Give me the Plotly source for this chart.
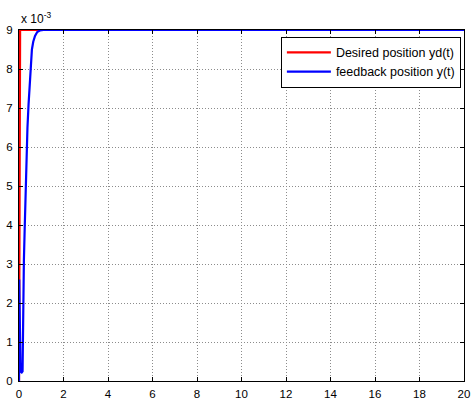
import plotly.graph_objects as go

# Desired position yd(t) [m]
t_desired = [0.0, 0.01, 0.03, 0.05, 1.0, 5.0, 10.0, 15.0, 20.0]
y_desired = [0.0, 0.0026, 0.0075, 0.0090, 0.0090, 0.0090, 0.0090, 0.0090, 0.0090]

# Feedback position y(t) [m]
t_feedback = [0.0, 0.01, 0.03, 0.07, 0.12, 0.16, 0.19, 0.22, 0.26, 0.30, 0.34,
              0.38, 0.43, 0.48, 0.53, 0.58, 0.64, 0.72, 0.82, 0.95, 1.1, 2.0,
              5.0, 10.0, 15.0, 20.0]
y_feedback = [0.0, 0.0026, 0.0018, 0.00024, 0.00022, 0.00025, 0.0020, 0.0031,
              0.0040, 0.0050, 0.0058, 0.0065, 0.0071, 0.0077, 0.0081, 0.0085,
              0.0087, 0.00885, 0.00895, 0.00899, 0.0090, 0.0090, 0.0090,
              0.0090, 0.0090, 0.0090]

x_ticks = list(range(0, 21, 2))
y_tick_vals = [i * 1e-3 for i in range(10)]
y_tick_text = [str(i) for i in range(10)]

FONT = "Liberation Sans, Arial, sans-serif"

fig = go.Figure()
fig.add_trace(go.Scatter(x=t_desired, y=y_desired, mode="lines",
                         line=dict(color="#ff0000", width=2.2),
                         name="Desired position yd(t)"))
fig.add_trace(go.Scatter(x=t_feedback, y=y_feedback, mode="lines",
                         line=dict(color="#0000ff", width=2.2),
                         name="feedback position y(t)"))

axis_common = dict(showline=True, linecolor="black", linewidth=1, mirror="allticks",
                   ticks="inside", ticklen=4, tickcolor="black",
                   showgrid=True, gridcolor="#8c8c8c", griddash="1px,2px", gridwidth=1,
                   zeroline=False, automargin=False,
                   tickfont=dict(family=FONT, size=11.5, color="black"))

fig.update_xaxes(range=[0, 20], tickvals=x_ticks, ticklabelstandoff=2, **axis_common)
fig.update_yaxes(range=[0, 0.009], tickvals=y_tick_vals, ticktext=y_tick_text,
                 ticklabelstandoff=3, **axis_common)

fig.add_annotation(x=0, y=1, xref="paper", yref="paper", xanchor="left", yanchor="bottom",
                   xshift=0, yshift=2,
                   text="x 10<sup>-3</sup>", showarrow=False,
                   font=dict(family=FONT, size=12, color="black"))

fig.update_layout(
    width=471, height=400,
    margin=dict(l=19, r=7, t=30, b=19, autoexpand=False),
    plot_bgcolor="white", paper_bgcolor="white",
    showlegend=True,
    legend=dict(x=0.993, y=0.981, xanchor="right", yanchor="top",
                bgcolor="white", bordercolor="black", borderwidth=1,
                font=dict(family=FONT, size=12.5, color="black"),
                itemwidth=44, tracegroupgap=0),
)

fig.write_html("out.html", config={"displayModeBar": False},
               post_script="document.body.style.margin='0';document.body.style.overflow='hidden';")
